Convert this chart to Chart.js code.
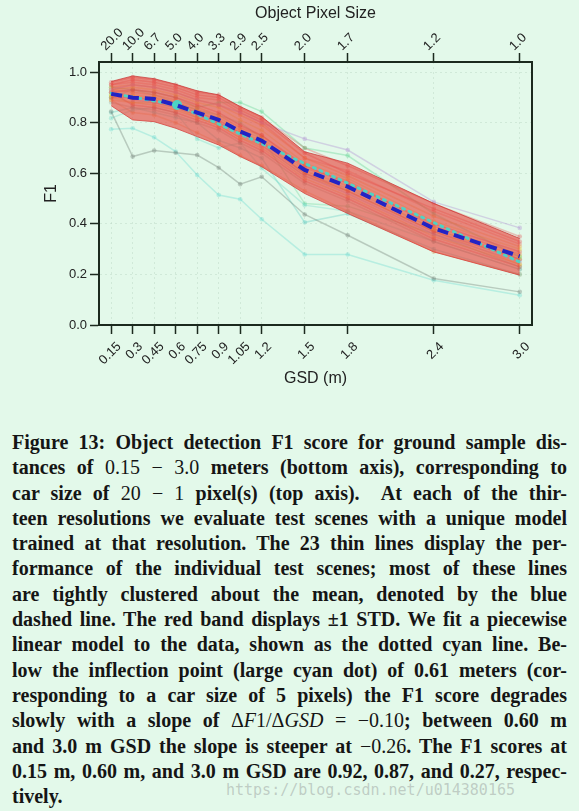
<!DOCTYPE html>
<html>
<head>
<meta charset="utf-8">
<script src="https://cdn.jsdelivr.net/npm/chart.js@4.4.0/dist/chart.umd.min.js"></script>
<style>
  html, body { margin: 0; padding: 0; background: #e3f9ea; }
  #wrap { position: relative; width: 579px; height: 811px; overflow: hidden; }
  #chartBox { position: absolute; left: 0; top: 0; width: 579px; height: 395px; }
  #caption {
    position: absolute; left: 12px; top: 430px; width: 555px;
    font-family: "Liberation Serif", "DejaVu Serif", serif; font-weight: bold;
    font-size: 20px; line-height: 25.3px; color: #151515;
  }
  #caption div { white-space: nowrap; text-align: justify; text-align-last: justify; overflow: visible; }
  #caption div.last { text-align-last: left; }
  #caption .m { font-weight: normal; }
  #caption i { font-weight: normal; }
  #mark {
    position: absolute; left: 226px; top: 781px;
    font-family: "DejaVu Sans Mono", monospace; font-size: 15px; color: rgba(175,185,180,0.7);
  }
</style>
</head>
<body>
<div id="wrap">
  <div id="chartBox"><canvas id="f1Chart" width="579" height="395"></canvas></div>
  <div id="caption">
    <div>Figure 13: Object detection F1 score for ground sample dis-</div>
    <div>tances of <span class="m">0.15 − 3.0</span> meters (bottom axis), corresponding to</div>
    <div>car size of <span class="m">20 − 1</span> pixel(s) (top axis).&nbsp; At each of the thir-</div>
    <div>teen resolutions we evaluate test scenes with a unique model</div>
    <div>trained at that resolution. The 23 thin lines display the per-</div>
    <div>formance of the individual test scenes; most of these lines</div>
    <div>are tightly clustered about the mean, denoted by the blue</div>
    <div>dashed line. The red band displays ±1 STD. We fit a piecewise</div>
    <div>linear model to the data, shown as the dotted cyan line. Be-</div>
    <div>low the inflection point (large cyan dot) of 0.61 meters (cor-</div>
    <div>responding to a car size of 5 pixels) the F1 score degrades</div>
    <div>slowly with a slope of <span class="m">Δ<i>F</i>1/Δ<i>GSD</i> = −0.10</span>; between 0.60 m</div>
    <div>and 3.0 m GSD the slope is steeper at <span class="m">−0.26</span>. The F1 scores at</div>
    <div>0.15 m, 0.60 m, and 3.0 m GSD are 0.92, 0.87, and 0.27, respec-</div>
    <div class="last">tively.</div>
  </div>
  <div id="mark">https://blog.csdn.net/u014380165</div>
</div>
<script>
// ground sample distance (bottom axis) and matching car size in pixels (top axis)
const gsd = [0.15, 0.3, 0.45, 0.6, 0.75, 0.9, 1.05, 1.2, 1.5, 1.8, 2.4, 3.0];
const gsdLabels = ['0.15', '0.3', '0.45', '0.6', '0.75', '0.9', '1.05', '1.2', '1.5', '1.8', '2.4', '3.0'];
const pixelLabels = ['20.0', '10.0', '6.7', '5.0', '4.0', '3.3', '2.9', '2.5', '2.0', '1.7', '1.2', '1.0'];
const f1Ticks = [0, 0.2, 0.4, 0.6, 0.8, 1.0];

// mean F1 and +/- 1 std band
const meanF1 = [0.914, 0.899, 0.894, 0.870, 0.840, 0.811, 0.765, 0.729, 0.613, 0.547, 0.382, 0.272];
const bandUpper = [0.963, 0.985, 0.974, 0.952, 0.926, 0.910, 0.864, 0.824, 0.685, 0.640, 0.481, 0.342];
const bandLower = [0.867, 0.811, 0.804, 0.778, 0.745, 0.712, 0.666, 0.626, 0.520, 0.441, 0.289, 0.197];

// piecewise linear fit, inflection at 0.61 m
const fitX = [0.15, 0.61, 3.0];
const fitY = [0.916, 0.870, 0.249];

// the 23 individual test scenes
const sceneF1 = [
  [0.844, 0.666, 0.690, 0.681, 0.672, 0.622, 0.557, 0.586, 0.437, 0.355, 0.184, 0.131],
  [0.774, 0.778, 0.742, 0.686, 0.593, 0.514, 0.497, 0.418, 0.279, 0.279, 0.177, 0.118],
  [0.930, 0.950, 0.940, 0.920, 0.890, 0.870, 0.840, 0.800, 0.736, 0.692, 0.487, 0.384],
  [0.950, 0.970, 0.960, 0.940, 0.910, 0.900, 0.850, 0.810, 0.680, 0.600, 0.460, 0.330],
  [0.940, 0.950, 0.940, 0.920, 0.890, 0.870, 0.830, 0.790, 0.660, 0.590, 0.430, 0.310],
  [0.930, 0.940, 0.930, 0.910, 0.880, 0.860, 0.810, 0.770, 0.640, 0.580, 0.410, 0.300],
  [0.920, 0.930, 0.920, 0.900, 0.870, 0.840, 0.790, 0.750, 0.630, 0.560, 0.400, 0.290],
  [0.930, 0.920, 0.910, 0.890, 0.860, 0.830, 0.780, 0.750, 0.620, 0.570, 0.390, 0.280],
  [0.940, 0.930, 0.920, 0.900, 0.860, 0.880, 0.880, 0.844, 0.700, 0.670, 0.440, 0.270],
  [0.910, 0.910, 0.900, 0.880, 0.850, 0.820, 0.770, 0.740, 0.610, 0.550, 0.380, 0.270],
  [0.900, 0.900, 0.890, 0.870, 0.840, 0.810, 0.760, 0.720, 0.600, 0.530, 0.370, 0.260],
  [0.930, 0.890, 0.880, 0.860, 0.830, 0.800, 0.750, 0.710, 0.590, 0.520, 0.360, 0.250],
  [0.890, 0.880, 0.870, 0.850, 0.820, 0.790, 0.740, 0.700, 0.580, 0.510, 0.350, 0.240],
  [0.920, 0.870, 0.860, 0.840, 0.810, 0.780, 0.730, 0.690, 0.570, 0.500, 0.340, 0.230],
  [0.880, 0.860, 0.850, 0.830, 0.800, 0.770, 0.720, 0.680, 0.560, 0.490, 0.330, 0.220],
  [0.910, 0.900, 0.900, 0.860, 0.820, 0.790, 0.740, 0.710, 0.590, 0.530, 0.370, 0.240],
  [0.818, 0.850, 0.860, 0.840, 0.736, 0.700, 0.720, 0.620, 0.474, 0.450, 0.330, 0.220],
  [0.900, 0.930, 0.910, 0.880, 0.850, 0.830, 0.800, 0.740, 0.480, 0.470, 0.360, 0.230],
  [0.840, 0.860, 0.840, 0.820, 0.800, 0.730, 0.700, 0.660, 0.406, 0.440, 0.300, 0.200],
  [0.960, 0.980, 0.970, 0.950, 0.920, 0.910, 0.860, 0.820, 0.700, 0.630, 0.480, 0.350],
  [0.890, 0.840, 0.830, 0.800, 0.760, 0.720, 0.670, 0.630, 0.530, 0.450, 0.290, 0.200],
  [0.950, 0.960, 0.950, 0.930, 0.900, 0.890, 0.840, 0.800, 0.660, 0.610, 0.450, 0.320],
  [0.900, 0.880, 0.880, 0.860, 0.830, 0.800, 0.760, 0.730, 0.600, 0.540, 0.380, 0.260]
];
const sceneColors = [
  'rgba(120,135,125,0.4)', 'rgba(90,215,205,0.32)', 'rgba(185,160,215,0.45)', 'rgba(225,60,60,0.3)',
  'rgba(240,150,40,0.3)', 'rgba(230,210,40,0.3)', 'rgba(220,50,50,0.3)', 'rgba(240,140,40,0.3)',
  'rgba(90,210,140,0.35)', 'rgba(225,205,40,0.3)', 'rgba(210,50,50,0.3)', 'rgba(170,120,200,0.3)',
  'rgba(240,150,50,0.3)', 'rgba(215,60,60,0.3)', 'rgba(140,150,140,0.3)', 'rgba(230,210,50,0.3)',
  'rgba(100,215,195,0.32)', 'rgba(100,210,150,0.32)', 'rgba(80,200,190,0.32)', 'rgba(225,60,60,0.3)',
  'rgba(235,140,60,0.3)', 'rgba(235,100,90,0.3)', 'rgba(190,210,60,0.3)'
];

const toPoints = (xs, ys) => xs.map((x, i) => ({ x: x, y: ys[i] }));

const datasets = [];
sceneF1.forEach((vals, k) => {
  datasets.push({
    label: 'scene ' + (k + 1),
    data: toPoints(gsd, vals),
    borderColor: sceneColors[k],
    backgroundColor: sceneColors[k],
    borderWidth: 1.5,
    pointRadius: 2.3,
    pointBorderWidth: 0,
    fill: false,
    order: 5
  });
});
datasets.push({
  label: 'std upper',
  data: toPoints(gsd, bandUpper),
  borderColor: 'rgba(200,45,45,0.7)',
  borderWidth: 1,
  pointRadius: 0,
  backgroundColor: 'rgba(232,70,62,0.64)',
  fill: '+1',
  order: 4
});
datasets.push({
  label: 'std lower',
  data: toPoints(gsd, bandLower),
  borderColor: 'rgba(200,45,45,0.7)',
  borderWidth: 1,
  pointRadius: 0,
  fill: false,
  order: 4
});
datasets.push({
  label: 'piecewise fit',
  data: toPoints(fitX, fitY),
  borderColor: 'rgba(72,215,200,0.95)',
  borderWidth: 3,
  borderDash: [2, 5],
  borderCapStyle: 'round',
  pointRadius: [0, 5, 0],
  pointBackgroundColor: 'rgba(72,215,200,0.95)',
  pointBorderWidth: 0,
  fill: false,
  order: 2
});
datasets.push({
  label: 'mean',
  data: toPoints(gsd, meanF1),
  borderColor: '#2323c4',
  borderWidth: 4,
  borderDash: [11, 6],
  pointRadius: 0,
  fill: false,
  order: 1
});

const tickFont = { family: 'Liberation Sans, Arial, sans-serif', size: 13 };
const titleFont = { family: 'Liberation Sans, Arial, sans-serif', size: 16 };
const textColor = '#222';
const spineColor = '#1b2a1e';
const gridColor = 'rgba(185,212,195,0.45)';

new Chart(document.getElementById('f1Chart').getContext('2d'), {
  type: 'line',
  data: { datasets: datasets },
  options: {
    responsive: false,
    animation: false,
    devicePixelRatio: 1,
    layout: { padding: 0 },
    plugins: { legend: { display: false }, tooltip: { enabled: false } },
    scales: {
      x: {
        type: 'linear', position: 'bottom', min: 0.065, max: 3.0855,
        afterBuildTicks: s => { s.ticks = gsd.map(v => ({ value: v })); },
        afterFit: s => { s.height = 70; },
        ticks: {
          autoSkip: false, minRotation: 45, maxRotation: 45, padding: 5, labelOffset: 8,
          font: tickFont, color: textColor,
          callback: (v, i) => gsdLabels[i]
        },
        grid: { color: gridColor, lineWidth: 1, tickColor: spineColor, tickLength: 9, tickWidth: 1.5 },
        border: { display: true, color: spineColor, width: 2, dash: [2, 3] },
        title: { display: true, text: 'GSD (m)', font: titleFont, color: textColor, padding: { top: 0, bottom: 7 } }
      },
      x2: {
        type: 'linear', position: 'top', min: 0.065, max: 3.0855,
        afterBuildTicks: s => { s.ticks = gsd.map(v => ({ value: v })); },
        afterFit: s => { s.height = 62; },
        ticks: {
          autoSkip: false, minRotation: 45, maxRotation: 45, padding: -1, labelOffset: 3,
          font: tickFont, color: textColor,
          callback: (v, i) => pixelLabels[i]
        },
        grid: { drawOnChartArea: false, tickColor: spineColor, tickLength: 9, tickWidth: 1.5 },
        border: { display: true, color: spineColor, width: 2 },
        title: { display: true, text: 'Object Pixel Size', font: titleFont, color: textColor, padding: { top: 4, bottom: 0 } }
      },
      y: {
        type: 'linear', position: 'left', min: 0, max: 1.04,
        afterBuildTicks: s => { s.ticks = f1Ticks.map(v => ({ value: v })); },
        afterFit: s => { s.width = 99; },
        ticks: { font: tickFont, color: textColor, padding: 3, callback: v => v.toFixed(1) },
        grid: { color: gridColor, lineWidth: 1, tickColor: spineColor, tickLength: 9, tickWidth: 1.5 },
        border: { display: true, color: spineColor, width: 2, dash: [2, 3] },
        title: { display: true, text: 'F1', font: titleFont, color: textColor, padding: { top: 42, bottom: 0 } }
      },
      y2: {
        type: 'linear', position: 'right', min: 0, max: 1.04,
        afterFit: s => { s.width = 47; },
        ticks: { display: false },
        grid: { display: false, drawTicks: false },
        border: { display: true, color: spineColor, width: 2 }
      }
    }
  }
});

// squeeze caption lines that are wider than the column
document.querySelectorAll('#caption div').forEach(line => {
  let ls = 0;
  while (line.scrollWidth > line.clientWidth + 0.5 && ls > -1.5) {
    ls -= 0.1;
    line.style.letterSpacing = ls.toFixed(1) + 'px';
  }
});
</script>
</body>
</html>
